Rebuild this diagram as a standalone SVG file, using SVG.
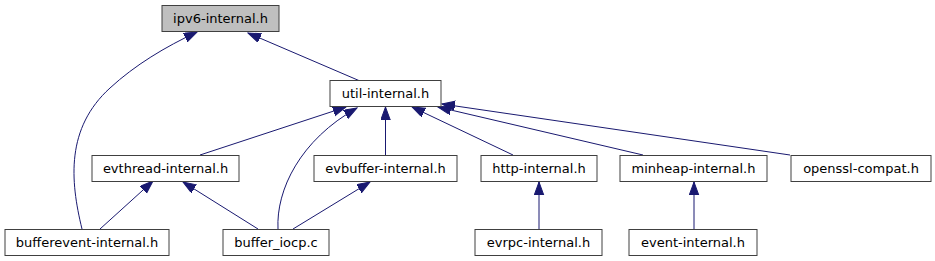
<svg xmlns="http://www.w3.org/2000/svg" width="935" height="261" viewBox="0 0 935 261">
<style>
.n rect{fill:#ffffff;stroke:#404040;stroke-width:1}
.n.hl rect{fill:#bfbfbf}
.n text{font-family:"DejaVu Sans",sans-serif;font-size:13px;fill:#000;text-anchor:middle}
.e path{fill:none;stroke:#191970;stroke-width:1;marker-end:url(#ah)}
</style>
<defs>
<marker id="ah" markerUnits="userSpaceOnUse" markerWidth="14" markerHeight="11" refX="13" refY="4.75" orient="auto" viewBox="0 0 14 11">
<path d="M0,0 L13,4.75 L0,9.5 z" fill="#191970" stroke="#191970" stroke-width="1"/>
</marker>
</defs>
<g id="edges" class="e">
<path d="M360,81 L248,33"/>
<path d="M82,229 C70,180 66,128 110,88 C135,65 165,47 197,32"/>
<path d="M200,155 L346,107"/>
<path d="M278,229 C276,190 300,140 357,108"/>
<path d="M385.5,155 L385.5,107"/>
<path d="M513,155 L412,107"/>
<path d="M643,155 L438,107"/>
<path d="M790,155 L442,104"/>
<path d="M100,229 L153,181"/>
<path d="M258,229 L183,182"/>
<path d="M293,229 L370,182"/>
<path d="M539,229 L539,182"/>
<path d="M694,229 L694,182"/>
</g>
<g id="ipv6-internal" class="n hl"><rect x="162" y="5.5" width="117" height="26"/><text x="220.5" y="23">ipv6-internal.h</text></g>
<g id="util-internal" class="n"><rect x="330" y="80.5" width="111" height="26"/><text x="385.5" y="98">util-internal.h</text></g>
<g id="evthread-internal" class="n"><rect x="92" y="155.5" width="147" height="26"/><text x="165.5" y="173">evthread-internal.h</text></g>
<g id="evbuffer-internal" class="n"><rect x="314" y="155.5" width="143" height="26"/><text x="385.5" y="173">evbuffer-internal.h</text></g>
<g id="http-internal" class="n"><rect x="481" y="155.5" width="116" height="26"/><text x="539" y="173">http-internal.h</text></g>
<g id="minheap-internal" class="n"><rect x="620" y="155.5" width="147" height="26"/><text x="693.5" y="173">minheap-internal.h</text></g>
<g id="openssl-compat" class="n"><rect x="791" y="155.5" width="140" height="26"/><text x="861" y="173">openssl-compat.h</text></g>
<g id="bufferevent-internal" class="n"><rect x="5" y="229.5" width="164" height="26"/><text x="87" y="247">bufferevent-internal.h</text></g>
<g id="buffer_iocp" class="n"><rect x="223" y="229.5" width="106" height="26"/><text x="276" y="247">buffer_iocp.c</text></g>
<g id="evrpc-internal" class="n"><rect x="475" y="229.5" width="127" height="26"/><text x="538.5" y="247">evrpc-internal.h</text></g>
<g id="event-internal" class="n"><rect x="629" y="229.5" width="128" height="26"/><text x="693" y="247">event-internal.h</text></g>
</svg>
